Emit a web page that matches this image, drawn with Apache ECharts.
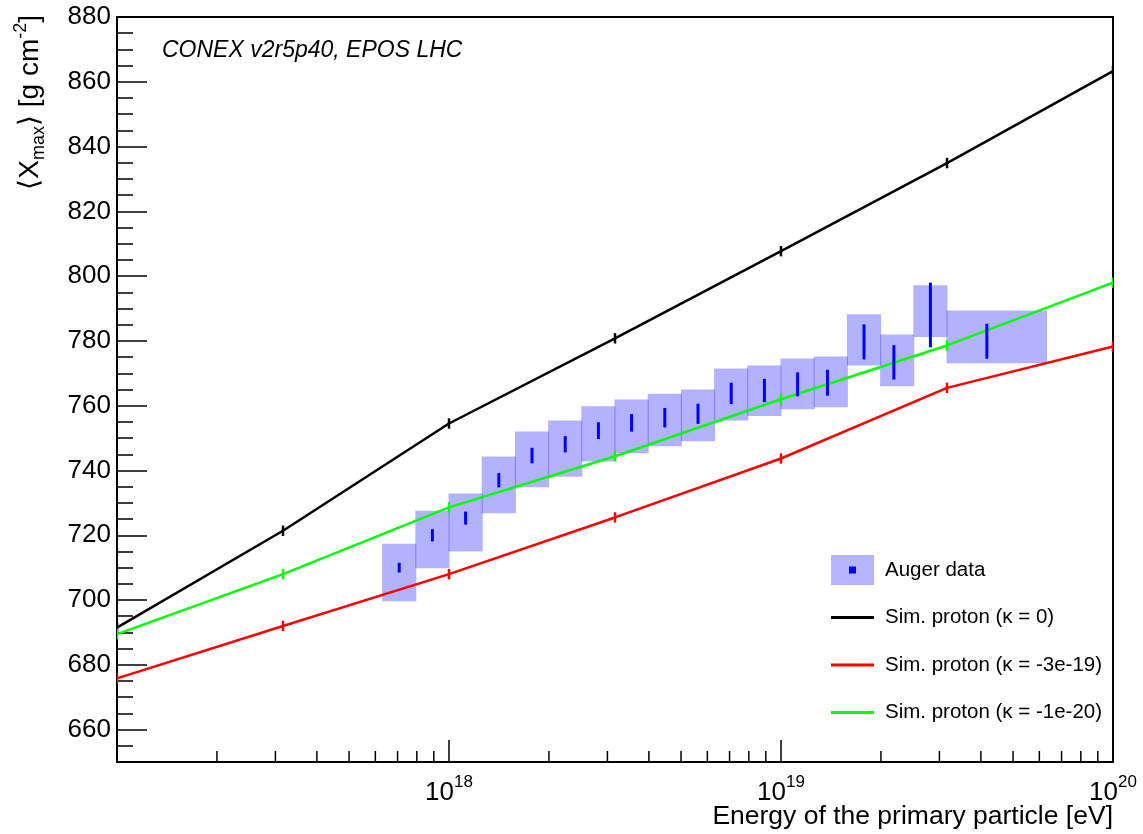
<!DOCTYPE html>
<html>
<head>
<meta charset="utf-8">
<script src="https://cdn.jsdelivr.net/npm/echarts@6/dist/echarts.min.js"></script>
<style>
  html, body { margin: 0; padding: 0; background: #ffffff; }
  #chart { width: 1143px; height: 834px; }
</style>
</head>
<body>
<div id="chart"></div>
<script>
// Auger <Xmax> per lg(E/eV) bin: bin edges, mean energy, mean Xmax, stat and sys uncertainties
const augerBinLow   = [17.8, 17.9, 18.0, 18.1, 18.2, 18.3, 18.4, 18.5, 18.6, 18.7, 18.8, 18.9, 19.0, 19.1, 19.2, 19.3, 19.4, 19.5];
const augerBinHigh  = [17.9, 18.0, 18.1, 18.2, 18.3, 18.4, 18.5, 18.6, 18.7, 18.8, 18.9, 19.0, 19.1, 19.2, 19.3, 19.4, 19.5, 19.8];
const augerLgE      = [17.85, 17.95, 18.05, 18.15, 18.25, 18.35, 18.45, 18.55, 18.65, 18.75, 18.85, 18.95, 19.05, 19.14, 19.25, 19.34, 19.45, 19.62];
const augerXmax     = [710.0, 720.0, 725.3, 737.0, 744.6, 748.1, 752.3, 754.7, 756.3, 757.5, 763.8, 764.7, 766.6, 767.1, 779.7, 773.4, 788.0, 779.9];
const augerStatErr  = [1.5, 1.9, 2.0, 2.2, 2.4, 2.5, 2.6, 2.7, 3.0, 3.1, 3.3, 3.6, 3.7, 4.0, 5.4, 5.3, 10.0, 5.4];
const augerSysUp    = [7.4, 7.6, 7.6, 7.3, 7.4, 7.3, 7.5, 7.2, 7.4, 7.5, 7.7, 7.7, 8.0, 8.1, 8.5, 8.6, 9.2, 9.5];
const augerSysDown  = [10.4, 10.2, 10.3, 10.2, 9.8, 10.0, 9.5, 9.4, 8.8, 8.5, 8.4, 7.9, 7.7, 7.6, 7.3, 7.4, 6.8, 6.8];

// CONEX v2r5p40 / EPOS LHC proton showers for three values of kappa
const simLgE         = [17, 17.5, 18, 18.5, 19, 19.5, 20];
const simKappa0      = [691.5, 721.4, 754.5, 780.8, 807.7, 834.9, 863.3];
const simKappaM3e19  = [675.8, 692.0, 708.0, 725.5, 743.7, 765.5, 778.3];
const simKappaM1e20  = [689.5, 708.0, 728.6, 744.4, 762.0, 778.6, 798.0];
const simErr         = [1.6, 1.6, 1.6, 1.6, 1.6, 1.6, 1.6];

// Axis ticks
const yMajorTicks = [660, 680, 700, 720, 740, 760, 780, 800, 820, 840, 860, 880];
const xMinorTicks = [2e17, 3e17, 4e17, 5e17, 6e17, 7e17, 8e17, 9e17,
                     2e18, 3e18, 4e18, 5e18, 6e18, 7e18, 8e18, 9e18,
                     2e19, 3e19, 4e19, 5e19, 6e19, 7e19, 8e19, 9e19];

const Y_MIN = 650, Y_MAX = 880;
const FONT = '"Liberation Sans", Arial, Helvetica, sans-serif';

const legendAuger = 'Auger data';
const legendK0 = 'Sim. proton (\u03ba = 0)';
const legendK3 = 'Sim. proton (\u03ba = -3e-19)';
const legendK1 = 'Sim. proton (\u03ba = -1e-20)';

const augerIconSvg =
  "<svg xmlns='http://www.w3.org/2000/svg' width='43' height='30'>" +
  "<rect width='43' height='30' fill='rgb(179,179,255)'/>" +
  "<rect x='18' y='11.5' width='7' height='7' fill='#0000ff'/></svg>";
const augerIcon = 'image://data:image/svg+xml;charset=utf-8,' + encodeURIComponent(augerIconSvg);
const lineIcon = 'path://M0,0H43V2.8H0Z';

const pow10 = (lg) => Math.pow(10, lg);

const augerBoxes = augerBinLow.map((lo, i) => [
  pow10(lo), pow10(augerBinHigh[i]),
  augerXmax[i] - augerSysDown[i], augerXmax[i] + augerSysUp[i]
]);
const augerPoints = augerLgE.map((lg, i) => [pow10(lg), augerXmax[i], augerStatErr[i]]);

function simLine(values) {
  return simLgE.map((lg, i) => [pow10(lg), values[i]]);
}
function simErrors(values) {
  return simLgE.map((lg, i) => [pow10(lg), values[i], simErr[i]]);
}

function renderBox(params, api) {
  const p0 = api.coord([api.value(0), api.value(3)]);
  const p1 = api.coord([api.value(1), api.value(2)]);
  return {
    type: 'rect',
    shape: { x: p0[0] - 0.5, y: p0[1], width: p1[0] - p0[0] + 1, height: p1[1] - p0[1] },
    style: { fill: 'rgba(0,0,255,0.3)' }
  };
}

function errorBarRenderer(color, width) {
  return function (params, api) {
    const x = api.value(0), y = api.value(1), e = api.value(2);
    const a = api.coord([x, y - e]);
    const b = api.coord([x, y + e]);
    return {
      type: 'line',
      shape: { x1: a[0], y1: a[1], x2: b[0], y2: b[1] },
      style: { stroke: color, lineWidth: width }
    };
  };
}

function renderMinorTick(params, api) {
  const p = api.coord([api.value(0), api.value(1)]);
  return {
    type: 'line',
    shape: { x1: p[0], y1: p[1], x2: p[0], y2: p[1] - 11 },
    style: { stroke: '#000', lineWidth: 1.5 }
  };
}

function simSeries(name, values, color) {
  return {
    name: name,
    type: 'line',
    data: simLine(values),
    symbol: 'none',
    lineStyle: { color: color, width: 2.5 },
    itemStyle: { color: color },
    z: 3,
    silent: true
  };
}
function simErrSeries(name, values, color) {
  return {
    name: name + ' err',
    type: 'custom',
    data: simErrors(values),
    encode: { x: 0, y: 1 },
    renderItem: errorBarRenderer(color, 2.5),
    clip: true,
    z: 4,
    silent: true
  };
}

const chart = echarts.init(document.getElementById('chart'), null, { renderer: 'canvas' });

chart.setOption({
  animation: false,
  backgroundColor: '#ffffff',
  textStyle: { fontFamily: FONT, color: '#000' },
  title: [
    {
      text: 'CONEX v2r5p40, EPOS LHC',
      left: 162,
      top: 39,
      padding: 0,
      textStyle: { fontFamily: FONT, fontStyle: 'italic', fontWeight: 'normal', fontSize: 23, color: '#000' }
    },
    {
      text: 'Energy of the primary particle [eV]',
      right: 30,
      top: 803,
      padding: 0,
      textStyle: { fontFamily: FONT, fontWeight: 'normal', fontSize: 26.5, color: '#000' }
    }
  ],
  grid: {
    left: 117, right: 30, top: 17, bottom: 72,
    containLabel: false,
    outerBoundsMode: 'none',
    show: true,
    borderColor: '#000',
    borderWidth: 2,
    backgroundColor: 'transparent'
  },
  legend: {
    orient: 'vertical',
    left: 831,
    top: 555,
    padding: 0,
    itemWidth: 43,
    itemHeight: 30,
    itemGap: 17.5,
    selectedMode: false,
    textStyle: { fontFamily: FONT, fontSize: 20.5, lineHeight: 30, color: '#000', padding: [0, 0, 0, 6] },
    data: [
      { name: legendAuger, icon: augerIcon },
      { name: legendK0, icon: lineIcon },
      { name: legendK3, icon: lineIcon },
      { name: legendK1, icon: lineIcon }
    ]
  },
  xAxis: {
    type: 'log',
    logBase: 10,
    min: 1e17,
    max: 1e20,
    axisLine: { show: true, lineStyle: { color: '#000', width: 2 } },
    axisTick: { show: true, inside: true, length: 22, lineStyle: { color: '#000', width: 1.5 } },
    minorTick: { show: false },
    splitLine: { show: false },
    axisLabel: {
      margin: 12,
      color: '#000',
      formatter: function (v) {
        const e = Math.round(Math.log10(v));
        if (e === 17) return '';
        return '{b|10}{s|' + e + '}';
      },
      rich: {
        b: { fontFamily: FONT, fontSize: 26, color: '#000', lineHeight: 32, verticalAlign: 'bottom' },
        s: { fontFamily: FONT, fontSize: 17, color: '#000', lineHeight: 17, verticalAlign: 'top' }
      }
    }
  },
  yAxis: [
    {
      type: 'value',
      position: 'left',
      min: Y_MIN,
      max: Y_MAX,
      name: '{a|\u27e8X}{sub|max}{a|\u27e9 [g cm}{sup|-2}{a|]}',
      nameLocation: 'end',
      nameGap: 2,
      nameRotate: 90,
      nameTextStyle: {
        align: 'right',
        verticalAlign: 'bottom',
        padding: [0, 0, 69, 0],
        rich: {
          a: { fontFamily: FONT, fontSize: 28, color: '#000', lineHeight: 36, verticalAlign: 'middle' },
          sub: { fontFamily: FONT, fontSize: 18, color: '#000', lineHeight: 18, verticalAlign: 'bottom' },
          sup: { fontFamily: FONT, fontSize: 18, color: '#000', lineHeight: 18, verticalAlign: 'top' }
        }
      },
      axisLine: { show: true, lineStyle: { color: '#000', width: 2 } },
      axisTick: { show: true, inside: true, length: 30, customValues: yMajorTicks, lineStyle: { color: '#000', width: 1.5 } },
      axisLabel: {
        customValues: yMajorTicks,
        margin: 6,
        fontFamily: FONT,
        fontSize: 26,
        color: '#000'
      },
      splitLine: { show: false }
    },
    {
      type: 'value',
      position: 'left',
      min: Y_MIN,
      max: Y_MAX,
      interval: 5,
      axisLine: { show: false },
      axisTick: { show: true, inside: true, length: 16, lineStyle: { color: '#000', width: 1.5 } },
      axisLabel: { show: false },
      splitLine: { show: false }
    }
  ],
  series: [
    {
      name: legendAuger,
      type: 'custom',
      data: augerBoxes,
      encode: { x: [0, 1], y: [2, 3] },
      renderItem: renderBox,
      itemStyle: { color: 'rgba(0,0,255,0.3)' },
      z: 1,
      silent: true
    },
    simSeries(legendK0, simKappa0, '#000000'),
    simSeries(legendK3, simKappaM3e19, '#ff0000'),
    simSeries(legendK1, simKappaM1e20, '#00ff00'),
    simErrSeries(legendK0, simKappa0, '#000000'),
    simErrSeries(legendK3, simKappaM3e19, '#ff0000'),
    simErrSeries(legendK1, simKappaM1e20, '#00ff00'),
    {
      name: 'Auger stat',
      type: 'custom',
      data: augerPoints,
      encode: { x: 0, y: 1 },
      renderItem: errorBarRenderer('#0000ff', 3),
      z: 5,
      silent: true
    },
    {
      name: 'x minor ticks',
      type: 'custom',
      data: xMinorTicks.map(v => [v, Y_MIN]),
      encode: { x: 0, y: 1 },
      renderItem: renderMinorTick,
      z: 6,
      silent: true
    }
  ]
});
</script>
</body>
</html>
